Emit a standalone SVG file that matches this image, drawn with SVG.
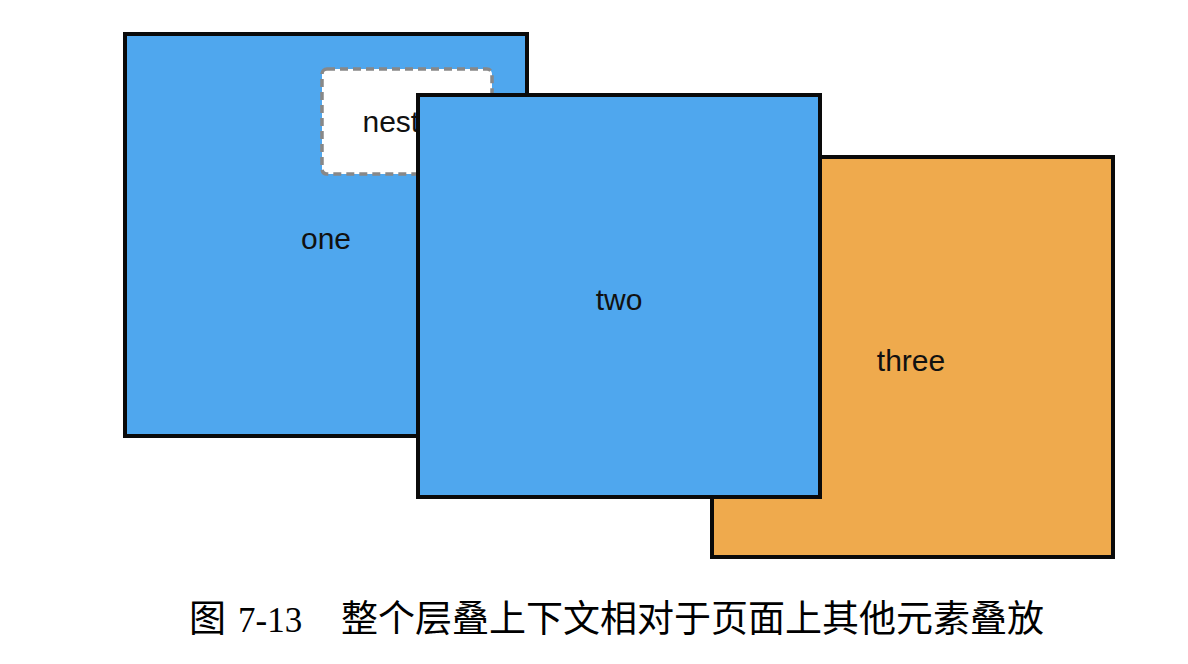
<svg xmlns="http://www.w3.org/2000/svg" width="1188" height="664" viewBox="0 0 1188 664">
  <style>
    .box { stroke: #0A0A0A; stroke-width: 4; }
    .blue { fill: #4FA7EE; }
    .orange { fill: #EFAA4D; }
    .nested { fill: #FFFFFF; stroke: #888888; stroke-width: 3.5; stroke-dasharray: 8 5; }
    .label { font-family: "Liberation Sans", Arial, sans-serif; font-size: 30px; fill: #111111; text-anchor: middle; }
    .caption { font-family: "Liberation Serif", "Noto Sans CJK SC", serif; font-size: 37px; fill: #000000; }
    .num { font-size: 35px; }
  </style>
  <rect width="1188" height="664" fill="#FFFFFF"/>
  <g id="one">
    <rect class="box blue" x="125" y="34" width="402" height="402"/>
    <text class="label" x="326" y="249">one</text>
    <g id="nested">
      <rect class="nested" x="322" y="69" width="170" height="105" rx="5" ry="5"/>
      <text class="label" x="407.5" y="131.5">nested</text>
    </g>
  </g>
  <g id="three">
    <rect class="box orange" x="712" y="157" width="401" height="400"/>
    <text class="label" x="911" y="371">three</text>
  </g>
  <g id="two">
    <rect class="box blue" x="418" y="95" width="402" height="402"/>
    <text class="label" x="619" y="310">two</text>
  </g>
  <g id="connectors"/>
  <g id="caption">
    <text class="caption" y="632"><tspan x="189">图</tspan><tspan class="num" x="238">7-13</tspan><tspan x="341">整个层叠上下文相对于页面上其他元素叠放</tspan></text>
  </g>
</svg>
